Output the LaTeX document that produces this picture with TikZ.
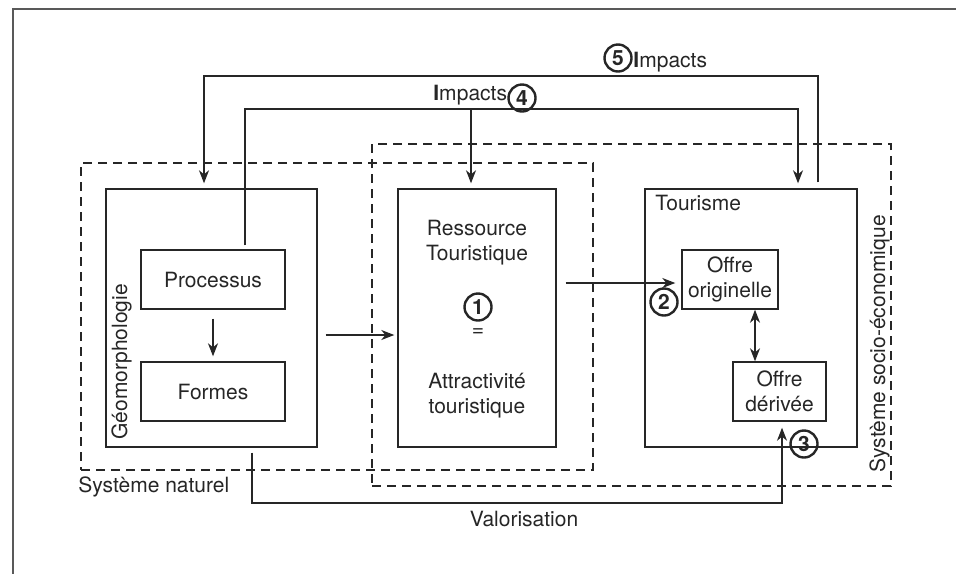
\documentclass[tikz,border=0pt]{standalone}
\usepackage{fontspec}
\setmainfont{TeX Gyre Heros}
\usetikzlibrary{arrows.meta,calc}

\begin{document}
\begin{tikzpicture}[x=0.5pt,y=-0.5pt,
  font=\fontsize{10.5}{12.5}\selectfont,
  >={Stealth[length=6.5pt,width=5pt,inset=2pt]},
  box/.style={draw=black!85,text=black!85,line width=0.7pt,inner sep=0pt,align=center},
  zone/.style={draw=black!85,line width=0.7pt,dash pattern=on 4.5pt off 3pt,inner sep=0pt},
  arr/.style={draw=black!85,line width=0.7pt,->},
  arrboth/.style={draw=black!85,line width=0.7pt,<->},
  num/.style={circle,draw=black!85,text=black!85,line width=1.2pt,minimum size=13.5pt,inner sep=0pt,font=\fontsize{10.5}{12.5}\selectfont\bfseries},
  lbl/.style={inner sep=0pt,text=black!85}]

\useasboundingbox (0,0) rectangle (956,574);
% cadre
\draw[black!65,line width=1pt] (956,9) -- (13,9) -- (13,574);

% systemes
\node[zone,minimum width=256pt,minimum height=153.5pt] (nat) at (337,316.5) {};
\node[zone,minimum width=259.5pt,minimum height=171pt] (soc) at (631.5,315) {};

% boites
\node[box,minimum width=105.5pt,minimum height=129pt] (geo) at (211.5,318) {};
\node[box,minimum width=72pt,minimum height=29.5pt] (proc) at (213,279.5) {Processus};
\node[box,minimum width=72pt,minimum height=29.5pt] (formes) at (213,391.5) {Formes};
\node[box,minimum width=79pt,minimum height=129pt] (res) at (477,318) {};
\node[box,minimum width=106pt,minimum height=129pt] (tour) at (751,318) {};
\node[box,minimum width=48pt,minimum height=29.5pt] (orig) at (730,279.5) {Offre\\originelle};
\node[box,minimum width=46.5pt,minimum height=29.5pt] (deriv) at (779.5,391.5) {Offre\\dérivée};

% textes
\node[lbl,rotate=90,anchor=base west] (geoT) at (127,440) {Géomorphologie};
\node[lbl,anchor=base west] (tourT) at (655,210) {Tourisme};
\node[lbl,anchor=base west] (natT) at (78,492) {Système naturel};
\node[lbl,rotate=90,anchor=base west] (socT) at (885,473) {Système socio-économique};
\node[lbl,align=center] (resT) at (477,243) {Ressource\\Touristique};
\node[num] (n1) at (478,307) {1};
\node[lbl] (eq) at (478,333) {=};
\node[lbl,align=center] (attr) at (477,396) {Attractivité\\touristique};
\node[num] (n2) at (664,302) {2};
\node[num] (n3) at (804,444) {3};
\node[lbl,anchor=base west] (imp4) at (433,100) {{\bfseries I}mpacts};
\node[num] (n4) at (522,98) {4};
\node[num] (n5) at (618,58) {5};
\node[lbl,anchor=base west] (imp5) at (633,67) {{\bfseries I}mpacts};
\node[lbl,anchor=base] (valT) at (524,526) {Valorisation};

% liens
\draw[arr,shorten <=3pt,shorten >=2.5pt] (818,0 |- tour.north) |- (204,76) -- (204,0 |- geo.north);
\draw[arr,shorten <=2pt,shorten >=2.5pt] (245,0 |- proc.north) |- (798,109) -- (798,0 |- tour.north);
\draw[arr,shorten >=2.5pt] (471,109) -- (471,0 |- res.north);
\draw[arr,shorten <=4pt,shorten >=1.5pt] (geo.east |- 0,335) -- (res.west |- 0,335);
\draw[arr,shorten <=4.5pt,shorten >=2.5pt] (proc) -- (formes);
\draw[arr,shorten <=4.5pt,shorten >=3pt] (res.east |- 0,283) -- (orig.west |- 0,283);
\draw[arrboth] (755,0 |- orig.south) -- (755,0 |- deriv.north);
\draw[arr,shorten <=2.5pt,shorten >=3pt] (252,0 |- geo.south) |- (782,503) -- (782,0 |- deriv.south);
\end{tikzpicture}
\end{document}
